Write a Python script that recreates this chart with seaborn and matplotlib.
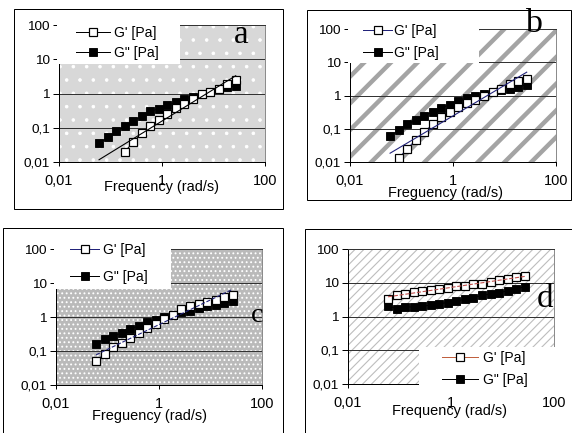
import numpy as np
import pandas as pd
import matplotlib
matplotlib.use("Agg")
import matplotlib as mpl
import matplotlib.pyplot as plt
from matplotlib.patches import Rectangle
from matplotlib.ticker import NullLocator, FixedLocator, FixedFormatter
import seaborn as sns

# ---------------- data ----------------
nan = float("nan")
freq = [0.060, 0.088, 0.129, 0.189, 0.277, 0.405, 0.594, 0.870, 1.27, 1.87,
        2.73, 4.0, 5.87, 8.6, 12.6, 18.4, 27.0]

a_gp = [nan, nan, nan, 0.020, 0.038, 0.070, 0.11, 0.165, 0.255, 0.37,
        0.50, 0.68, 0.95, 1.11, 1.34, 1.89, 2.5]
a_gpp = [0.035, 0.052, 0.078, 0.11, 0.158, 0.217, 0.30, 0.36, 0.45, 0.56,
         0.68, 0.81, 1.0, 1.11, 1.34, 1.5, 1.68]

b_gp = [nan, 0.013, 0.025, 0.046, 0.08, 0.137, 0.23, 0.325, 0.44, 0.60,
        0.74, 1.0, 1.26, 1.56, 2.17, 2.73, 3.2]
b_gpp = [0.060, 0.090, 0.137, 0.18, 0.245, 0.325, 0.42, 0.53, 0.67, 0.83,
         1.0, 1.12, 1.26, 1.42, 1.6, 1.79, 2.1]

c_gp = [0.051, 0.083, 0.13, 0.174, 0.244, 0.34, 0.48, 0.62, 0.87, 1.17,
        1.75, 2.04, 2.4, 2.7, 3.2, 3.8, 4.5]
c_gpp = [0.163, 0.228, 0.27, 0.34, 0.43, 0.56, 0.70, 0.83, 1.0, 1.17,
         1.4, 1.53, 1.83, 2.04, 2.28, 2.56, 2.86]

d_gp = [3.4, 4.2, 4.7, 5.3, 5.7, 6.1, 6.7, 7.1, 7.9, 7.9,
        8.9, 9.5, 10.4, 11.7, 13.1, 14.6, 15.7]
d_gpp = [2.05, 1.72, 1.92, 1.92, 2.05, 2.15, 2.41, 2.58, 2.89, 3.24,
         3.6, 4.2, 4.7, 5.1, 5.7, 6.7, 7.5]

x_ticks = [0.01, 1, 100]
x_tick_labels = ["0,01", "1", "100"]
y_ticks = [0.01, 0.1, 1, 10, 100]
y_tick_labels = ["0,01", "0,1", "1", "10", "100"]
gp_label = "G' [Pa]"
gpp_label = 'G" [Pa]'
panel_letters = ["a", "b", "c", "d"]
x_titles = ["Frequency (rad/s)", "Freguency (rad/s)",
            "Freguency (rad/s)", "Frequency (rad/s)"]

# ---------------- figure geometry ----------------
W, H, DPI = 572, 433, 80
PT = 72.0 / DPI  # points per pixel

plt.rcParams["font.family"] = ["Liberation Sans", "DejaVu Sans"]
fig = plt.figure(figsize=(W / DPI, H / DPI), dpi=DPI)
fig.patch.set_facecolor("white")


def fig_rect(x0, y0, x1, y1):
    return [x0 / W, 1 - y1 / H, (x1 - x0) / W, (y1 - y0) / H]


def fx(px):
    return px / W


def fy(py):
    return 1 - py / H


NAVY = "#22237a"
panels = [
    dict(gp=a_gp, gpp=a_gpp, plot=(59, 25, 265, 162), frame=(14, 9, 283, 209),
         fill=("#d8d8d8", "white", ".", 0.8), legbox=(57, 17, 180, 64),
         leg=(76, 26), hl=2.4, htp=0.35, ls=0.42,
         letter=(241, 43, 33), xt=(161, 191), gpc="black", trc="black", trls="-"),
    dict(gp=b_gp, gpp=b_gpp, plot=(350, 29, 556, 162), frame=(307, 10, 571, 200),
         fill=("white", "#a4a4a4", "/", 4.0), legbox=(348, 20, 479, 63),
         leg=(363, 24), hl=2.1, htp=0.12, ls=0.55,
         letter=(533, 32, 34), xt=(445, 197), gpc=NAVY, trc=NAVY, trls="-"),
    dict(gp=c_gp, gpp=c_gpp, plot=(56, 249, 262, 385), frame=(3, 228, 283, 445),
         fill=("#bababa", "white", "...", 1.0), legbox=(54, 241, 171, 289),
         leg=(70, 243), hl=2.1, htp=0.25, ls=0.95,
         letter=(257, 322, 28), xt=(150, 420), gpc=NAVY, trc=NAVY, trls="--"),
    dict(gp=d_gp, gpp=d_gpp, plot=(348, 249, 554, 384), frame=(305, 229, 590, 445),
         fill=("white", "#bdbdbd", "///", 1.0), legbox=(419, 347, 560, 390),
         leg=(442, 351), hl=2.6, htp=0.35, ls=0.55,
         letter=(545, 307, 33), xt=(450, 415), gpc="#c0603f", trc="#c0504d", trls="--"),
]

freq_arr = np.array(freq)

for i, p in enumerate(panels):
    ax = fig.add_axes(fig_rect(*p["plot"]))
    ax.set_xscale("log")
    ax.set_yscale("log")
    ax.set_xlim(0.01, 100)
    ax.set_ylim(0.01, 100)

    # background pattern of the plot area
    fc, hc, hatch, hlw = p["fill"]
    with mpl.rc_context({"hatch.linewidth": hlw}):
        bg = Rectangle((0, 0), 1, 1, transform=ax.transAxes, facecolor=fc,
                       edgecolor=hc, hatch=hatch, lw=0, zorder=0.1)
        if hasattr(bg, "set_hatch_linewidth"):
            bg.set_hatch_linewidth(hlw)
        ax.add_patch(bg)

    df = pd.DataFrame({"f": freq, "gp": p["gp"], "gpp": p["gpp"]})
    d_gpp_ = df[["f", "gpp"]].dropna()
    d_gp_ = df[["f", "gp"]].dropna()

    sns.lineplot(data=d_gpp_, x="f", y="gpp", ax=ax, color="black", lw=1 * PT,
                 marker="s", markersize=7.4, markerfacecolor="black",
                 markeredgecolor="black", markeredgewidth=0.8,
                 estimator=None, sort=False, label=gpp_label, zorder=2)
    sns.lineplot(data=d_gp_, x="f", y="gp", ax=ax, color=p["gpc"], lw=1 * PT,
                 marker="s", markersize=6.8, markerfacecolor="white",
                 markeredgecolor="black", markeredgewidth=1.1,
                 estimator=None, sort=False, label=gp_label, zorder=2.1)

    # power-law trend line of G' (fit in log-log space, like a spreadsheet trendline)
    k, b0 = np.polyfit(np.log10(d_gp_["f"]), np.log10(d_gp_["gp"]), 1)
    trend = 10 ** (b0 + k * np.log10(freq_arr))
    sns.lineplot(x=freq_arr, y=trend, ax=ax, color=p["trc"], lw=1.1 * PT,
                 linestyle=p["trls"], estimator=None, sort=False, zorder=2.2)

    # axes styling
    ax.xaxis.set_major_locator(FixedLocator(x_ticks))
    ax.xaxis.set_major_formatter(FixedFormatter(x_tick_labels))
    ax.yaxis.set_major_locator(FixedLocator(y_ticks))
    ax.yaxis.set_major_formatter(FixedFormatter(y_tick_labels))
    ax.xaxis.set_minor_locator(NullLocator())
    ax.yaxis.set_minor_locator(NullLocator())
    ax.tick_params(axis="y", length=6 * PT, width=1 * PT, pad=3 * PT,
                   labelsize=13.5 * PT, direction="out", color="black")
    ax.tick_params(axis="x", length=4 * PT, width=1 * PT, pad=8 * PT,
                   labelsize=14.5 * PT, direction="out", color="black")
    ax.set_xlabel("")
    ax.set_ylabel("")
    ax.set_axisbelow(True)
    ax.yaxis.grid(True, which="major", color="#333333", lw=1 * PT)
    ax.xaxis.grid(False)
    for side in ["left", "bottom"]:
        ax.spines[side].set_color("black")
        ax.spines[side].set_linewidth(1 * PT)
    ax.spines["top"].set_color("#333333")
    ax.spines["top"].set_linewidth(1 * PT)
    ax.spines["right"].set_color("#8c8c8c")
    ax.spines["right"].set_linewidth(1 * PT)

    # white legend box
    x0, y0, x1, y1 = p["legbox"]
    fig.add_artist(Rectangle((fx(x0), fy(y1)), (x1 - x0) / W, (y1 - y0) / H,
                             transform=fig.transFigure, facecolor="white",
                             edgecolor="none", zorder=3))
    handles, labels = ax.get_legend_handles_labels()
    order = [labels.index(gp_label), labels.index(gpp_label)]
    leg = ax.legend([handles[j] for j in order], [labels[j] for j in order],
                    loc="upper left", bbox_to_anchor=(fx(p["leg"][0]), fy(p["leg"][1])),
                    bbox_transform=fig.transFigure, frameon=False, borderpad=0,
                    borderaxespad=0, handlelength=p["hl"], handletextpad=p["htp"],
                    labelspacing=p["ls"], fontsize=14 * PT, numpoints=1)
    leg.set_zorder(6)
    leg.remove()
    fig.add_artist(leg)

    # x axis title
    fig.text(fx(p["xt"][0]), fy(p["xt"][1]), x_titles[i], ha="center",
             va="baseline", fontsize=14.5 * PT, zorder=7)

    # panel letter
    lx, ly, lsz = p["letter"]
    fig.text(fx(lx), fy(ly), panel_letters[i], ha="center", va="baseline",
             fontsize=lsz * PT, family=["Liberation Serif", "DejaVu Serif"], zorder=7)

    # outer frame of the panel
    x0, y0, x1, y1 = p["frame"]
    fig.add_artist(Rectangle((fx(x0), fy(y1)), (x1 - x0) / W, (y1 - y0) / H,
                             transform=fig.transFigure, fill=False,
                             edgecolor="black", lw=1 * PT, zorder=1))

fig.savefig("out.png", dpi=DPI, facecolor="white")
